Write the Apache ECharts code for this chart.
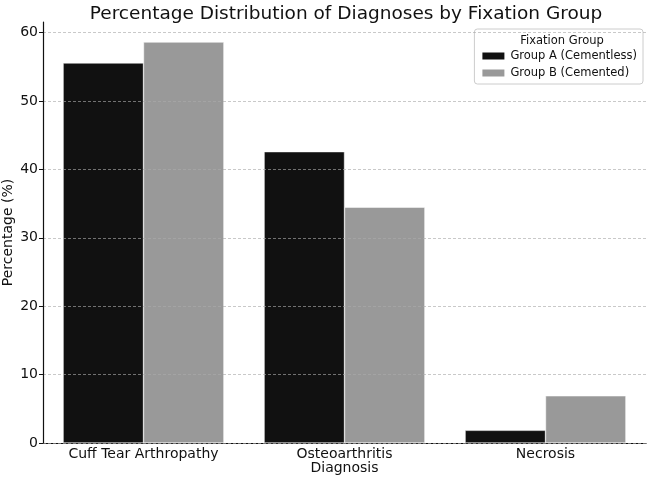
<!DOCTYPE html>
<html>
<head>
<meta charset="utf-8">
<script src="https://cdn.jsdelivr.net/npm/echarts@6/dist/echarts.min.js"></script>
<style>
  html, body { margin: 0; padding: 0; background: #fff; }
  #main { width: 650px; height: 481px; }
</style>
</head>
<body>
<div id="main"></div>
<script>
// 诊断类别
const categories = ['Cuff Tear Arthropathy', 'Osteoarthritis', 'Necrosis']
// 两组百分比
const groupA = [55.56, 42.59, 1.85]
const groupB = [58.62, 34.48, 6.90]
const seriesNames = ['Group A (Cementless)', 'Group B (Cemented)']
const yTicks = [0, 10, 20, 30, 40, 50, 60]

const font = 'DejaVu Sans'
const chart = echarts.init(document.getElementById('main'))

chart.setOption({
  animation: false,
  backgroundColor: '#fff',
  textStyle: { fontFamily: font },
  title: [
    {
      text: 'Percentage Distribution of Diagnoses by Fixation Group',
      left: 341, top: 0, textAlign: 'center',
      textStyle: { fontFamily: font, fontSize: 18.5, fontWeight: 'normal', color: '#111' }
    },
    {
      text: 'Fixation Group',
      left: 557, top: 30, textAlign: 'center',
      textStyle: { fontFamily: font, fontSize: 11.5, fontWeight: 'normal', color: '#111' }
    }
  ],
  legend: {
    orient: 'vertical',
    right: 7, top: 29,
    padding: [21, 6, 5, 6],
    itemGap: 5,
    itemWidth: 24, itemHeight: 9,
    icon: 'rect',
    borderColor: '#ccc', borderWidth: 1, borderRadius: 3,
    textStyle: { fontFamily: font, fontSize: 11.5, color: '#111' },
    data: seriesNames
  },
  grid: { left: 43, right: 4, top: 22, bottom: 38, outerBoundsMode: 'none', containLabel: false },
  xAxis: {
    type: 'category',
    data: categories,
    name: 'Diagnosis',
    nameLocation: 'middle',
    nameGap: 18,
    nameMoveOverlap: false,
    nameTextStyle: { fontFamily: font, fontSize: 14, color: '#111', verticalAlign: 'top' },
    axisLine: { lineStyle: { color: '#111', width: 1.2 } },
    axisTick: { show: false },
    axisLabel: { fontFamily: font, fontSize: 14, color: '#111', margin: 4 }
  },
  yAxis: {
    type: 'value',
    min: 0, max: 61.55, interval: 10,
    z: 5,
    name: 'Percentage (%)',
    nameLocation: 'middle',
    nameGap: 28,
    nameMoveOverlap: false,
    nameTextStyle: { fontFamily: font, fontSize: 14, color: '#111' },
    axisLine: { show: true, lineStyle: { color: '#111', width: 1.2 } },
    axisTick: { show: true, length: 4, lineStyle: { color: '#111' } },
    axisLabel: {
      fontFamily: font, fontSize: 14, color: '#111', margin: 5,
      showMaxLabel: false,
      formatter: v => (yTicks.includes(v) ? String(v) : '')
    },
    splitLine: {
      show: true, showMaxLine: false,
      lineStyle: { color: 'rgba(170,170,170,0.8)', type: [3, 2], width: 0.8 }
    }
  },
  series: [
    {
      name: seriesNames[0], type: 'bar', data: groupA,
      barGap: '0%', barCategoryGap: '20%',
      itemStyle: { color: '#111111', borderColor: '#fff', borderWidth: 0.5 }
    },
    {
      name: seriesNames[1], type: 'bar', data: groupB,
      itemStyle: { color: '#999999', borderColor: '#fff', borderWidth: 0.5 }
    }
  ]
})
</script>
</body>
</html>
